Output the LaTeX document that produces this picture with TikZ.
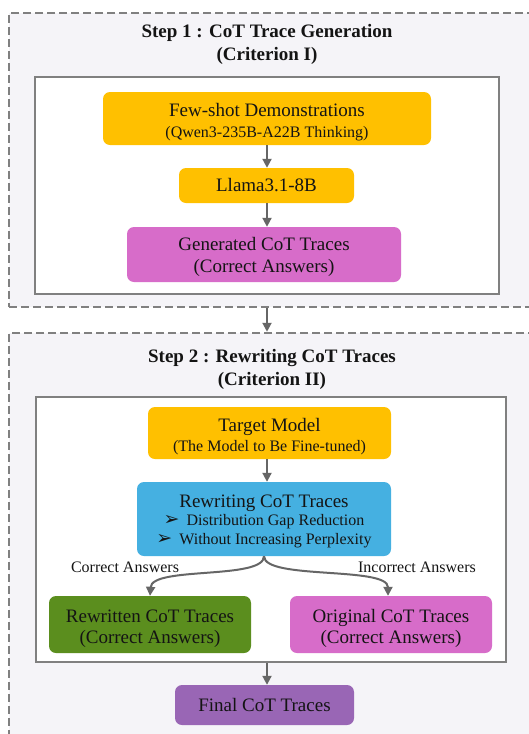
\documentclass[tikz,border=0pt]{standalone}
\usepackage{fontspec}
\setmainfont{Liberation Serif}
\newfontfamily\dingfont{DejaVu Sans}
\usetikzlibrary{arrows.meta}
\definecolor{gold}{HTML}{FFC000}
\definecolor{orchid}{HTML}{D76CC9}
\definecolor{sky}{HTML}{45B0E1}
\definecolor{leaf}{HTML}{5B8E1E}
\definecolor{violet}{HTML}{9966B5}
\definecolor{panel}{HTML}{F5F4F8}
\definecolor{edge}{HTML}{808080}
\definecolor{arrowgray}{HTML}{666666}
\definecolor{ink}{HTML}{141414}
\newcommand{\bigf}{\fontsize{19}{22}\selectfont}
\newcommand{\smallf}{\fontsize{16}{19}\selectfont}
\newcommand{\pad}[1]{\rule{0pt}{#1pt}}
\newcommand{\bul}{{\dingfont\fontsize{19}{19}\selectfont ➢}}
\tikzset{
  stepframe/.style={draw=edge, line width=2.5pt, dash pattern=on 8pt off 4pt, fill=panel, rectangle, inner sep=0pt},
  innerframe/.style={draw=edge, line width=2pt, fill=white, rectangle, inner sep=0pt},
  card/.style={rectangle, rounded corners=7pt, inner sep=0pt, align=center, text=ink, font=\bigf},
  arr/.style={draw=arrowgray, line width=2pt, -{Triangle[length=9pt,width=9pt]}},
  lbl/.style={text=ink, font=\smallf, inner sep=0pt}
}
\begin{document}
\begin{tikzpicture}[x=1pt,y=-1pt]
\useasboundingbox (0,0) rectangle (529,734);
\clip (0,0) rectangle (529,734);
\fill[white] (0,0) rectangle (529,734);
% step frames
\node[stepframe, minimum width=536pt, minimum height=294pt] (step1) at (277,160) {};
\node[stepframe, minimum width=536pt, minimum height=427pt] (step2) at (277,546.5) {};
\node[innerframe, minimum width=464pt, minimum height=217pt] (in1) at (267,185.5) {};
\node[innerframe, minimum width=470pt, minimum height=265pt] (in2) at (271,529.5) {};
% titles
\node[align=center, font=\bigf\bfseries, text=ink, inner sep=0pt] (t1) at (267,44) {Step 1 : CoT Trace Generation\\[1pt](Criterion I)};
\node[align=center, font=\bigf\bfseries, text=ink, inner sep=0pt] (t2) at (272,369.5) {Step 2 : Rewriting CoT Traces\\[1pt](Criterion II)};
% step 1 cards
\node[card, fill=gold, minimum width=328pt, minimum height=53pt] (few) at (267,118.5)
  {\pad{21}Few-shot Demonstrations\\[-1pt]{\smallf(Qwen3-235B-A22B Thinking)}};
\node[card, fill=gold, minimum width=175pt, minimum height=35pt] (llama) at (266.5,185.5) {Llama3.1-8B};
\node[card, fill=orchid, minimum width=274pt, minimum height=55pt] (gen) at (264,254.5)
  {\pad{19}Generated CoT Traces\\(Correct Answers)};
% step 2 cards
\node[card, fill=gold, minimum width=243pt, minimum height=52pt] (target) at (269.5,433)
  {\pad{21}Target Model\\[-2pt]{\smallf(The Model to Be Fine-tuned)}};
\node[card, fill=sky, minimum width=254pt, minimum height=74pt] (rew) at (264,519)
  {\pad{17}Rewriting CoT Traces\\[-4pt]
   {\smallf\bul\hspace{7pt}Distribution Gap Reduction}\\[-3pt]
   {\smallf\bul\hspace{7pt}Without Increasing Perplexity}};
\node[card, fill=leaf, minimum width=202pt, minimum height=57pt] (rwt) at (150,624.5)
  {\pad{22}Rewritten CoT Traces\\[-1pt](Correct Answers)};
\node[card, fill=orchid, minimum width=202pt, minimum height=57pt] (orig) at (391,624.5)
  {\pad{22}Original CoT Traces\\[-1pt](Correct Answers)};
\node[card, fill=violet, minimum width=179pt, minimum height=40pt] (final) at (264.5,705) {Final CoT Traces};
% labels
\node[lbl] (lc) at (125,567) {Correct Answers};
\node[lbl] (li) at (417,567) {Incorrect Answers};
% arrows
\draw[arr] (few.south) -- (few.south |- llama.north);
\draw[arr] (few.south |- llama.south) -- (few.south |- gen.north);
\draw[arr] (few.south |- step1.south) -- (few.south |- step2.north);
\draw[arr] (few.south |- target.south) -- (few.south |- rew.north);
\draw[arr] (rew.south) .. controls (264,580) and (152,566) .. (rwt.north);
\draw[arr] (rew.south) .. controls (264,580) and (388,566) .. (orig.north -| 388,0);
\draw[arr] (few.south |- in2.south) -- (few.south |- final.north);
\end{tikzpicture}
\end{document}
